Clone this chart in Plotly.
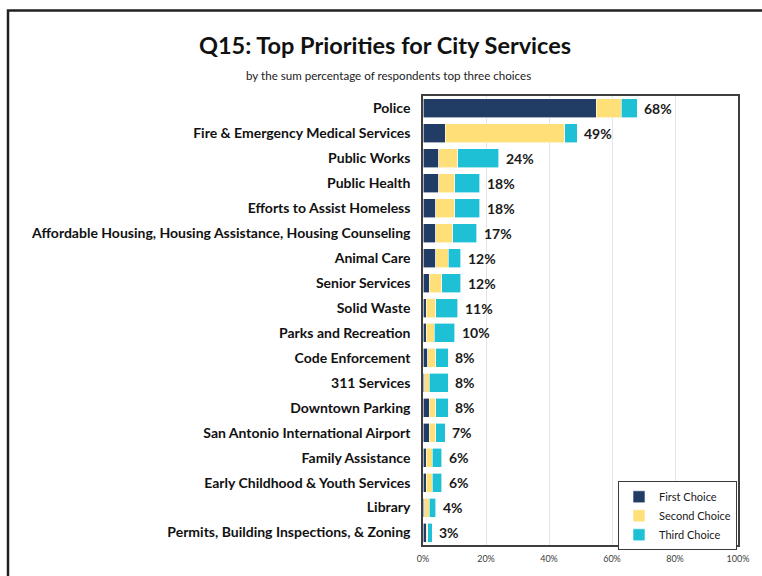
import plotly.graph_objects as go

# Services ranked by combined share of respondents' top three choices
services = [
    "Police",
    "Fire & Emergency Medical Services",
    "Public Works",
    "Public Health",
    "Efforts to Assist Homeless",
    "Affordable Housing, Housing Assistance, Housing Counseling",
    "Animal Care",
    "Senior Services",
    "Solid Waste",
    "Parks and Recreation",
    "Code Enforcement",
    "311 Services",
    "Downtown Parking",
    "San Antonio International Airport",
    "Family Assistance",
    "Early Childhood & Youth Services",
    "Library",
    "Permits, Building Inspections, & Zoning",
]

first_choice = [55, 7, 5, 5, 4, 4, 4, 2, 1, 1, 1.5, 0.5, 2, 2, 1, 1, 0.5, 1]
second_choice = [8, 38, 6, 5, 6, 5.5, 4, 4, 3, 2.5, 2.5, 1.5, 2, 2, 2, 2, 1.5, 0.5]
third_choice = [5, 4, 13, 8, 8, 7.5, 4, 6, 7, 6.5, 4, 6, 4, 3, 3, 3, 2, 1.5]
total_labels = ["68%", "49%", "24%", "18%", "18%", "17%", "12%", "12%", "11%",
                "10%", "8%", "8%", "8%", "7%", "6%", "6%", "4%", "3%"]
totals = [float(t.rstrip("%")) for t in total_labels]

x_ticks = [0, 20, 40, 60, 80, 100]
x_tick_text = [f"{v}%" for v in x_ticks]

NAVY = "#213D66"
GOLD = "#FFDF77"
CYAN = "#1EC0D6"
FONT = "Lato"

fig = go.Figure()
for name, vals, col in [("First Choice", first_choice, NAVY),
                        ("Second Choice", second_choice, GOLD),
                        ("Third Choice", third_choice, CYAN)]:
    fig.add_trace(go.Bar(
        y=services, x=vals, name=name, orientation="h",
        marker=dict(color=col, line=dict(color="white", width=0.6)),
        hoverinfo="x+name",
    ))

W, H = 762, 576
L, R, T, B = 423, 24, 96, 29
pw, ph = W - L - R, H - T - B


def px_x(p):
    return (p - L) / pw


def px_y(p):
    return (H - B - p) / ph


# Total labels just past the end of each stacked bar
total_annotations = [
    dict(x=tot, y=svc, xref="x", yref="y", text=f"<b>{lab}</b>",
         xanchor="left", yanchor="middle", xshift=5, showarrow=False,
         font=dict(family=FONT, size=14, color="#1A1A1A"))
    for svc, tot, lab in zip(services, totals, total_labels)
]

fig.update_layout(
    width=W, height=H,
    margin=dict(l=L, r=R, t=T, b=B),
    paper_bgcolor="white", plot_bgcolor="white",
    barmode="stack", bargap=0.24,
    font=dict(family=FONT, color="#1A1A1A"),
    showlegend=True,
    legend=dict(
        x=px_x(737), y=px_y(483), xanchor="right", yanchor="top",
        bgcolor="white", bordercolor="#3A3A3A", borderwidth=1,
        font=dict(family=FONT, size=11, color="#1A1A1A"),
        traceorder="normal", itemwidth=30, tracegroupgap=0,
    ),
    xaxis=dict(
        range=[0, 100], tickvals=x_ticks, ticktext=x_tick_text,
        tickfont=dict(family=FONT, size=9, color="#404040"),
        showgrid=True, gridcolor="#E3E3E3", gridwidth=1,
        zeroline=False, showline=True, linecolor="#3F3F3F", linewidth=1.5,
        mirror=True, ticks="", ticklabelstandoff=4, fixedrange=True,
    ),
    yaxis=dict(
        range=[len(services) - 0.5, -0.5],
        tickfont=dict(family=FONT, size=14, color="#111111", weight="bold"),
        showline=True, linecolor="#3F3F3F", linewidth=1.5, mirror=True,
        ticks="", ticklabelstandoff=8, showgrid=False, fixedrange=True,
    ),
    annotations=[
        dict(text="<b>Q15: Top Priorities for City Services</b>",
             xref="paper", yref="paper", x=px_x(385), y=px_y(45),
             xanchor="center", yanchor="middle", showarrow=False,
             font=dict(family=FONT, size=23.5, color="#111111")),
        dict(text="by the sum percentage of respondents top three choices",
             xref="paper", yref="paper", x=px_x(388), y=px_y(75),
             xanchor="center", yanchor="middle", showarrow=False,
             font=dict(family=FONT, size=11.6, color="#222222")),
    ] + total_annotations,
    shapes=[
        # outer frame around the whole chart
        dict(type="rect", xref="paper", yref="paper",
             x0=px_x(8), y0=px_y(590), x1=px_x(775), y1=px_y(10),
             line=dict(color="#222222", width=2.5), layer="below"),
    ],
)

fig.write_html("out.html")
